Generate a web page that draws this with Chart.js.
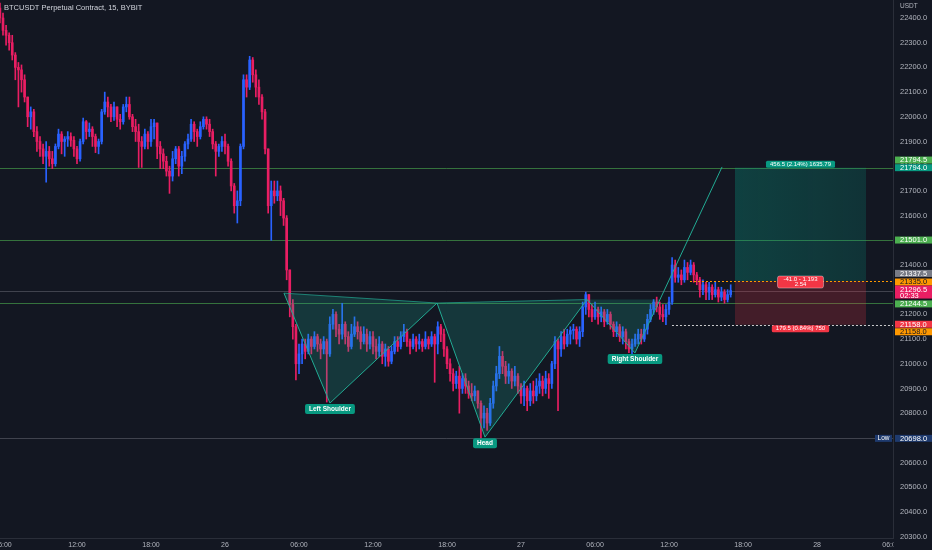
<!DOCTYPE html>
<html>
<head>
<meta charset="utf-8">
<script src="https://cdn.jsdelivr.net/npm/chart.js@4.4.0/dist/chart.umd.min.js"></script>
<style>
  html, body { margin: 0; padding: 0; background: #131722; }
  #wrap { width: 932px; height: 550px; position: relative; }
</style>
</head>
<body>
<div id="wrap"><canvas id="chart"></canvas></div>
<script>
// 15 minute candles, first one at 25th 05:45 (hours counted from 25th 00:00)
const startHour = 5.75;
const stepHour = 0.25;
const firstOpen = 22440;

const closes = [
  22400, 22350, 22330, 22300, 22250, 22200, 22190, 22150, 22080, 22000,
  22020, 21940, 21900, 21870, 21840, 21860, 21830, 21810, 21880, 21930,
  21900, 21910, 21920, 21905, 21870, 21830, 21900, 21980, 21940, 21950,
  21920, 21880, 21900, 22020, 22060, 22040, 22000, 22040, 21990, 21980,
  22040, 22050, 22000, 21960, 21940, 21900, 21880, 21930, 21900, 21960,
  21975, 21880, 21850, 21820, 21780, 21760, 21830, 21870, 21800, 21840,
  21890, 21910, 21970, 21940, 21920, 21960, 21990, 21970, 21940, 21890,
  21860, 21880, 21900, 21880, 21820, 21720, 21640, 21660, 21880, 22150,
  22120, 22230, 22170, 22120, 22080, 22020, 21870, 21640, 21700, 21680,
  21700, 21660, 21590, 21380, 21240, 21150, 21000, 21040, 21080, 21050,
  21100, 21070, 21110, 21080, 21060, 21090, 21040, 21160, 21200, 21140,
  21120, 21160, 21110, 21070, 21120, 21150, 21130, 21090, 21120, 21080,
  21110, 21070, 21050, 21080, 21030, 21060, 21010, 21050, 21090, 21070,
  21110, 21130, 21090, 21070, 21100, 21080, 21090, 21070, 21100, 21080,
  21110, 21080, 21150, 21120, 21060, 21000, 20960, 20920, 20950, 20900,
  20940, 20910, 20880, 20870, 20890, 20840, 20780, 20800, 20760, 20840,
  20910, 20960, 21030, 20990, 20950, 20970, 20930, 20950, 20910, 20870,
  20900, 20850, 20890, 20870, 20910, 20930, 20900, 20940, 20920, 21000,
  21090, 21060, 21110, 21080, 21120, 21135, 21140, 21100, 21130, 21230,
  21280, 21220, 21190, 21220, 21190, 21210, 21170, 21200, 21160, 21130,
  21150, 21110, 21130, 21090, 21060, 21080, 21100, 21120, 21100, 21140,
  21180, 21220, 21250, 21230, 21200, 21190, 21220, 21250, 21400, 21350,
  21360, 21340, 21390, 21370, 21400, 21360, 21340, 21300, 21320, 21290,
  21310, 21280, 21300, 21270, 21290, 21260, 21280, 21296.5
];
const highs = [
  22460, 22420, 22370, 22340, 22330, 22260, 22220, 22210, 22170, 22080,
  22040, 22030, 21960, 21920, 21890, 21900, 21880, 21860, 21890, 21950,
  21940, 21920, 21940, 21935, 21920, 21880, 21910, 21995, 21985, 21975,
  21960, 21930, 21910, 22030, 22100, 22080, 22050, 22060, 22040, 22010,
  22050, 22080, 22080, 22010, 21990, 21970, 21920, 21950, 21940, 21990,
  21990, 21970, 21900, 21870, 21840, 21800, 21860, 21880, 21880, 21860,
  21900, 21930, 21990, 21980, 21950, 21980, 22000, 22000, 21990, 21950,
  21900, 21890, 21920, 21930, 21890, 21830, 21730, 21700, 21890, 22170,
  22170, 22245, 22240, 22190, 22150, 22090, 22030, 21870, 21740, 21740,
  21740, 21720, 21670, 21600, 21380, 21260, 21160, 21080, 21100, 21100,
  21120, 21110, 21130, 21120, 21100, 21110, 21100, 21190, 21220, 21210,
  21160, 21245, 21170, 21130, 21160, 21190, 21170, 21150, 21150, 21140,
  21130, 21130, 21100, 21110, 21090, 21080, 21070, 21070, 21110, 21110,
  21130, 21160, 21140, 21100, 21120, 21110, 21120, 21100, 21130, 21110,
  21130, 21120, 21170, 21160, 21140, 21070, 21020, 20980, 20970, 20990,
  20960, 20960, 20930, 20920, 20910, 20890, 20850, 20830, 20820, 20860,
  20930, 20990, 21070, 21050, 21010, 21000, 20980, 20990, 20960, 20920,
  20930, 20910, 20920, 20930, 20940, 20960, 20950, 20970, 20960, 21010,
  21110, 21100, 21130, 21140, 21140, 21150, 21160, 21150, 21150, 21250,
  21290, 21280, 21240, 21250, 21230, 21230, 21220, 21220, 21210, 21170,
  21170, 21160, 21150, 21140, 21100, 21100, 21120, 21140, 21140, 21160,
  21200, 21240, 21260, 21270, 21250, 21240, 21240, 21270, 21430, 21420,
  21390, 21380, 21420, 21410, 21420, 21410, 21370, 21350, 21340, 21330,
  21330, 21320, 21330, 21310, 21310, 21300, 21300, 21320
];
const lows = [
  22380, 22330, 22290, 22270, 22230, 22150, 22040, 22100, 22060, 21960,
  21950, 21920, 21860, 21840, 21810, 21735, 21800, 21790, 21800, 21870,
  21850, 21840, 21880, 21880, 21840, 21810, 21820, 21890, 21910, 21920,
  21880, 21855, 21850, 21890, 22010, 22000, 21980, 21985, 21960, 21950,
  21970, 22020, 21990, 21940, 21900, 21795, 21795, 21870, 21870, 21880,
  21910, 21830, 21790, 21790, 21760, 21690, 21740, 21810, 21760, 21770,
  21820, 21870, 21900, 21900, 21880, 21910, 21950, 21950, 21920, 21870,
  21760, 21840, 21860, 21850, 21800, 21700, 21610, 21570, 21640, 21870,
  22080, 22110, 22140, 22080, 22050, 21990, 21850, 21610, 21500, 21650,
  21660, 21600, 21560, 21340, 21190, 21100, 20935, 20960, 21000, 21020,
  21040, 21040, 21060, 21050, 21020, 21040, 20845, 21030, 21140, 21110,
  21080, 21100, 21080, 21050, 21060, 21110, 21100, 21060, 21080, 21050,
  21060, 21040, 21020, 21030, 21000, 20990, 20990, 21000, 21040, 21050,
  21060, 21090, 21070, 21040, 21060, 21050, 21060, 21050, 21060, 21060,
  21070, 20925, 21040, 21090, 21030, 20980, 20930, 20890, 20900, 20800,
  20880, 20880, 20860, 20850, 20850, 20820, 20698, 20740, 20730, 20750,
  20820, 20890, 20940, 20960, 20920, 20920, 20900, 20910, 20880, 20840,
  20830, 20810, 20830, 20840, 20850, 20880, 20870, 20880, 20860, 20900,
  20980, 20810, 21030, 21060, 21070, 21080, 21100, 21080, 21070, 21110,
  21200, 21190, 21170, 21180, 21160, 21170, 21150, 21160, 21140, 21110,
  21110, 21090, 21080, 21060, 21045, 21040, 21070, 21080, 21080, 21090,
  21120, 21170, 21200, 21210, 21180, 21170, 21158, 21200, 21240, 21330,
  21330, 21320, 21330, 21340, 21360, 21330, 21320, 21270, 21280, 21260,
  21260, 21260, 21270, 21250, 21255, 21245, 21250, 21270
];

// drawn levels and tools
const greenLevels = [21794.0, 21501.0, 21244.5];
const lowPrice = 20698.0;
const lastPrice = 21296.5;
const entryPrice = 21335.0;
const targetPrice = 21794.0;
const stopPrice = 21158.0;
const positionHours = [65.35, 75.97];
const entryLineStart = 61.7;
const stopLineStart = 60.24;
const positionTexts = ['456.5 (2.14%) 1635.79', '-41.0 - 1.193', '2.54', '179.5 (0.84%) 750'];

// inverse head & shoulders drawing
const patternHours = [28.78, 32.51, 41.19, 45.08, 53.35, 57.24, 64.30];
const patternPrices = [21286, 20841, 21246, 20703, 21260, 21044, 21797];
const patternLabels = ['Left Shoulder', 'Head', 'Right Shoulder'];

// price axis tags
const tagPrices = [21794.5, 21794.0, 21501.0, 21337.5, 21335.0, 21296.5, 21244.5, 21158.0, 21158.0, 20698.0];
const countdown = '02:33';

const UP = '#2962ff';
const DOWN = '#e91e63';
const FONT = "'Liberation Sans', Arial, sans-serif";

const times = closes.map((c, i) => startHour + i * stepHour);
const opens = closes.map((c, i) => i === 0 ? firstOpen : closes[i - 1]);
const colors = closes.map((c, i) => c >= opens[i] ? UP : DOWN);

const wickData = times.map((t, i) => ({ x: t, y: [Math.min(lows[i], opens[i], closes[i]), Math.max(highs[i], opens[i], closes[i])] }));
const bodyData = times.map((t, i) => ({ x: t, y: [opens[i], closes[i]] }));

function box(ctx, x, y, w, h, r, fill) {
    ctx.fillStyle = fill;
    ctx.beginPath();
    if (ctx.roundRect) ctx.roundRect(x, y, w, h, r); else ctx.rect(x, y, w, h);
    ctx.fill();
}

const overlay = {
    id: 'overlay',
    beforeDatasetsDraw(chart) {
        const { ctx, chartArea: a, scales: { x, y } } = chart;
        ctx.save();
        ctx.beginPath();
        ctx.rect(a.left, a.top, a.right - a.left, a.bottom - a.top);
        ctx.clip();
        ctx.lineWidth = 1;
        // horizontal levels
        ctx.strokeStyle = 'rgba(76,175,80,0.6)';
        greenLevels.forEach(p => {
            const py = Math.round(y.getPixelForValue(p)) + 0.5;
            ctx.beginPath(); ctx.moveTo(a.left, py); ctx.lineTo(a.right, py); ctx.stroke();
        });
        ctx.strokeStyle = 'rgba(120,123,134,0.45)';
        [lowPrice, lastPrice].forEach(p => {
            const py = Math.round(y.getPixelForValue(p)) + 0.5;
            ctx.beginPath(); ctx.moveTo(a.left, py); ctx.lineTo(a.right, py); ctx.stroke();
        });
        ctx.restore();
    },
    afterDatasetsDraw(chart) {
        const { ctx, chartArea: a, scales: { x, y } } = chart;
        ctx.save();
        ctx.beginPath();
        ctx.rect(a.left, a.top, a.right - a.left, a.bottom - a.top);
        ctx.clip();

        // pattern
        const P = patternHours.map((h, i) => [x.getPixelForValue(h), y.getPixelForValue(patternPrices[i])]);
        const neckY = P[4][1];
        const t = (neckY - P[5][1]) / (P[6][1] - P[5][1]);
        const Q = [P[5][0] + t * (P[6][0] - P[5][0]), neckY];
        ctx.fillStyle = 'rgba(34,171,148,0.22)';
        [[P[0], P[1], P[2]], [P[2], P[3], P[4]], [P[4], P[5], Q]].forEach(tri => {
            ctx.beginPath();
            ctx.moveTo(tri[0][0], tri[0][1]);
            tri.slice(1).forEach(p => ctx.lineTo(p[0], p[1]));
            ctx.closePath();
            ctx.fill();
        });
        ctx.strokeStyle = '#22ab94';
        ctx.lineWidth = 1;
        ctx.beginPath();
        P.forEach((p, i) => i ? ctx.lineTo(p[0], p[1]) : ctx.moveTo(p[0], p[1]));
        ctx.stroke();
        ctx.strokeStyle = 'rgba(34,171,148,0.7)';
        [[P[0], P[2]], [P[2], P[4]]].forEach(s => {
            ctx.beginPath(); ctx.moveTo(s[0][0], s[0][1]); ctx.lineTo(s[1][0], s[1][1]); ctx.stroke();
        });

        ctx.font = 'bold 6.5px ' + FONT;
        ctx.textAlign = 'center';
        ctx.textBaseline = 'middle';
        [1, 3, 5].forEach((k, j) => {
            const w = ctx.measureText(patternLabels[j]).width + 8;
            box(ctx, P[k][0] - w / 2, P[k][1] + 1, w, 10, 2, '#089981');
            ctx.fillStyle = '#ffffff';
            ctx.fillText(patternLabels[j], P[k][0], P[k][1] + 6.5);
        });

        // long position tool
        const x0 = x.getPixelForValue(positionHours[0]);
        const x1 = x.getPixelForValue(positionHours[1]);
        const yT = y.getPixelForValue(targetPrice);
        const yE = y.getPixelForValue(entryPrice);
        const yS = y.getPixelForValue(stopPrice);
        const g = ctx.createLinearGradient(x0, 0, x1, 0);
        g.addColorStop(0, 'rgba(8,153,129,0.32)');
        g.addColorStop(1, 'rgba(8,153,129,0.22)');
        ctx.fillStyle = g;
        ctx.fillRect(x0, yT, x1 - x0, yE - yT);
        ctx.fillStyle = 'rgba(242,54,69,0.22)';
        ctx.fillRect(x0, yE, x1 - x0, yS - yE);

        ctx.lineWidth = 1;
        ctx.setLineDash([2, 2]);
        ctx.strokeStyle = '#ff9800';
        ctx.beginPath(); ctx.moveTo(x.getPixelForValue(entryLineStart), Math.round(yE) + 0.5); ctx.lineTo(a.right, Math.round(yE) + 0.5); ctx.stroke();
        ctx.strokeStyle = 'rgba(235,235,235,0.85)';
        ctx.beginPath(); ctx.moveTo(x.getPixelForValue(stopLineStart), Math.round(yS) + 0.5); ctx.lineTo(a.right, Math.round(yS) + 0.5); ctx.stroke();
        ctx.setLineDash([]);

        const cx = (x0 + x1) / 2;
        ctx.font = '6px ' + FONT;
        let w = ctx.measureText(positionTexts[0]).width + 8;
        box(ctx, cx - w / 2, yT - 7, w, 7, 1.5, '#089981');
        ctx.fillStyle = '#ffffff';
        ctx.fillText(positionTexts[0], cx, yT - 3.5);

        w = ctx.measureText(positionTexts[1]).width + 12;
        box(ctx, cx - w / 2, yE - 5, w, 12, 2, '#f23645');
        ctx.strokeStyle = 'rgba(255,255,255,0.6)';
        ctx.lineWidth = 0.6;
        ctx.beginPath();
        if (ctx.roundRect) ctx.roundRect(cx - w / 2, yE - 5, w, 12, 2); else ctx.rect(cx - w / 2, yE - 5, w, 12);
        ctx.stroke();
        ctx.fillStyle = '#ffffff';
        ctx.fillText(positionTexts[1], cx, yE - 1.5);
        ctx.fillText(positionTexts[2], cx, yE + 3.8);

        w = ctx.measureText(positionTexts[3]).width + 8;
        box(ctx, cx - w / 2, yS + 0.5, w, 7, 1.5, '#f23645');
        ctx.fillStyle = '#ffffff';
        ctx.fillText(positionTexts[3], cx, yS + 4);
        ctx.restore();
    },
    afterDraw(chart) {
        const { ctx, chartArea: a, scales: { y } } = chart;
        ctx.save();
        // hide tick label spill into the price axis corner
        ctx.fillStyle = '#131722';
        ctx.fillRect(a.right + 0.5, a.bottom + 1, chart.width - a.right, chart.height - a.bottom);

        // title and currency
        ctx.textBaseline = 'middle';
        ctx.textAlign = 'left';
        ctx.fillStyle = '#d1d4dc';
        ctx.font = '7.5px ' + FONT;
        ctx.fillText('BTCUSDT Perpetual Contract, 15, BYBIT', 4, 8);
        ctx.font = '6.5px ' + FONT;
        ctx.fillStyle = '#b2b5be';
        ctx.fillText('USDT', a.right + 7, 6);

        // price tags
        const tagBg = ['#4caf50', '#089981', '#4caf50', '#787b86', '#ff9800', '#e91e63', '#4caf50', '#f23645', '#ff9800', '#1e3a6e'];
        const tagFg = ['#ffffff', '#ffffff', '#ffffff', '#ffffff', '#131722', '#ffffff', '#ffffff', '#ffffff', '#131722', '#ffffff'];
        const shift = [-7.5, 0, 0, -7, 1, -1, 0.5, -0.5, 7, 0];
        ctx.font = '7.5px ' + FONT;
        tagPrices.forEach((p, i) => {
            const cy = y.getPixelForValue(p) + shift[i];
            const h = i === 5 ? 13 : 7;
            const top = i === 5 ? cy - 4 : cy - 3.5;
            ctx.fillStyle = tagBg[i];
            ctx.fillRect(a.right + 2, top, chart.width - a.right - 2, h);
            ctx.fillStyle = tagFg[i];
            ctx.fillText(p.toFixed(1), a.right + 7, cy + 0.3);
            if (i === 5) ctx.fillText(countdown, a.right + 7, cy + 6.3);
        });
        // Low label in front of the axis
        const ly = y.getPixelForValue(lowPrice);
        ctx.fillStyle = '#1e3a6e';
        ctx.fillRect(a.right - 18, ly - 3.5, 17, 7);
        ctx.fillStyle = '#ffffff';
        ctx.font = '6.5px ' + FONT;
        ctx.textAlign = 'center';
        ctx.fillText('Low', a.right - 9.5, ly + 0.3);
        ctx.restore();
    }
};

new Chart(document.getElementById('chart'), {
    type: 'bar',
    data: {
        datasets: [
            { data: wickData, backgroundColor: colors, barThickness: 1, grouped: false, order: 2 },
            { data: bodyData, backgroundColor: colors, barThickness: 2, grouped: false, minBarLength: 1, order: 1 }
        ]
    },
    options: {
        responsive: true,
        maintainAspectRatio: false,
        animation: false,
        layout: { padding: 0 },
        plugins: { legend: { display: false }, tooltip: { enabled: false } },
        scales: {
            x: {
                type: 'linear',
                offset: false,
                min: 5.757,
                max: 78.16,
                grid: { display: false, offset: false, drawTicks: false },
                border: { display: true, color: '#2a2e39' },
                ticks: {
                    stepSize: 6,
                    includeBounds: false,
                    autoSkip: false,
                    maxRotation: 0,
                    padding: 3,
                    color: '#b2b5be',
                    font: { family: FONT, size: 7 },
                    callback: v => {
                        const hh = v % 24;
                        return hh === 0 ? String(25 + v / 24) : String(hh).padStart(2, '0') + ':00';
                    }
                },
                afterFit: s => { s.height = 12; s.paddingLeft = 0; s.paddingRight = 0; }
            },
            y: {
                position: 'right',
                min: 20294.6,
                max: 22472.9,
                grid: { display: false, drawTicks: false },
                border: { display: true, color: '#2a2e39' },
                ticks: {
                    stepSize: 100,
                    includeBounds: false,
                    autoSkip: false,
                    crossAlign: 'near',
                    padding: 7,
                    color: '#b2b5be',
                    font: { family: FONT, size: 7.5 },
                    callback: v => v.toFixed(1)
                },
                afterFit: s => { s.width = 39; s.paddingTop = 0; s.paddingBottom = 0; }
            }
        }
    },
    plugins: [overlay]
});
</script>
</body>
</html>
